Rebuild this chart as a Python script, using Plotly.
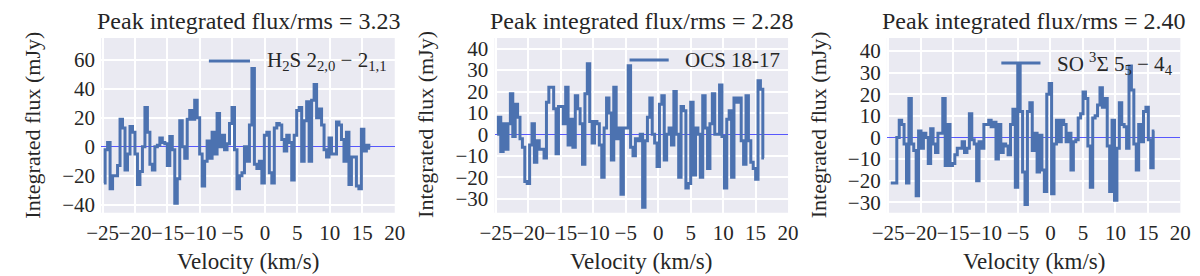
import numpy as np
import plotly.graph_objects as go

# ---- data ----
h2s_flux = [-25, -2, 3, -29, -20, -20, -13, 19, 13, -16, -5, 14, 10, -5, -26, -17, 0, 27, 10, -12,
            -16, 0, 1, 6, 3, 2, -13, 7, -2, -39, -22, 18, 0, -8, 19, 25, 19, 32, 20, -5,
            -27, -10, 4, -8, 10, -5, 23, 0, 8, -2, 2, 16, 27, -2, -29, -20, -18, 0, -10, 15,
            54, -12, -15, -10, -25, 8, 10, -18, -25, 13, 16, 15, 5, -3, 8, 3, -23, 8, 25, 27,
            -10, 18, 31, -10, 32, 43, 20, 26, 15, -2, -7, 6, -5, -5, 17, 15, 5, -10, 10, -26,
            -7, -7, -27, -29, 12, -3, 1, -1]
ocs_flux = [0, 8, -8, 5, -7, 5, 19, -1, 14, 8, -2, -6, -22, -23, -5, 5, -13, -3, -7, -7,
            -11, 15, 22, 22, 12, -9, 13, 13, 5, 22, -5, 7, -6, 18, 12, 5, -14, 19, 33, 6,
            -4, 6, 5, -5, -20, 3, 17, 10, -12, 22, -2, 3, -28, 3, 3, 32, -6, -10, -2, -3,
            0, -34, -3, 8, 17, 0, -4, -15, 14, 18, -12, 0, 3, -5, 20, 0, -20, 13, 11, -25,
            -23, 15, -19, 3, 0, -20, 18, 3, -16, 5, 19, 0, 0, 23, -1, -25, 7, 11, -20, 17,
            15, 17, -3, -14, 18, -3, -13, -16, -21, 25, 21, -11]
so_flux = [-21, -21, -21, 0, 8, 6, -3, -21, 18, -3, -6, -27, 3, -5, 2, 0, -12, 4, -3, -7,
           2, 2, 18, -13, 6, -13, -12, -8, -5, -5, -2, -7, -5, 11, -1, -3, -20, -2, -5, 6,
           6, 8, 5, 7, -10, 6, -7, -3, -4, -8, 6, 13, -23, 34, 12, -16, -31, 12, 16, -6,
           2, -16, 1, -15, -25, 20, 25, -26, -3, 8, -2, 8, 6, -2, 2, -15, -2, -1, 9, 11,
           21, 18, -4, -23, 9, 10, 15, 23, 14, 18, -4, -25, 8, -29, -5, 16, 6, 5, -5, 33,
           22, -3, -15, 6, -2, 12, 14, -1, -14, 3]

h2s_vel = np.linspace(-24.8, 16.2, len(h2s_flux))
ocs_vel = np.linspace(-24.8, 16.3, len(ocs_flux))
so_vel = np.linspace(-24.6, 16.0, len(so_flux))

titles = ["Peak integrated flux/rms = 3.23", "Peak integrated flux/rms = 2.28",
          "Peak integrated flux/rms = 2.40"]
labels = ["H<sub>2</sub>S 2<sub>2,0</sub> − 2<sub>1,1</sub>", "OCS 18-17",
          "SO <sup>3</sup>Σ 5<sub>5</sub> − 4<sub>4</sub>"]
y_ranges = [[-45.5, 75], [-36.6, 45], [-34.8, 46]]
y_dticks = [20, 10, 10]

W, H = 1200, 276
LINE = "#4C72B0"
BG = "#EAEAF2"
FONT = "'Liberation Serif', 'DejaVu Serif', serif"
TXT = "#262626"

px_left = [80, 482, 883]
px_w = 300
top_px, bot_px = 29.5, 207.5

fig = go.Figure()
series = [(h2s_vel, h2s_flux), (ocs_vel, ocs_flux), (so_vel, so_flux)]
annotations = []
shapes = []
for i, (v, f) in enumerate(series):
    n = "" if i == 0 else str(i + 1)
    fig.add_trace(go.Scatter(x=v, y=f, mode="lines", line=dict(color=LINE, width=3, shape="hvh"),
                             xaxis="x" + n, yaxis="y" + n, showlegend=False, name=labels[i]))
    x0 = px_left[i] / W
    x1 = (px_left[i] + px_w) / W
    fig.update_layout(**{
        "xaxis" + n: dict(domain=[x0, x1], range=[-25.2, 20], dtick=5, tick0=0, tickangle=0,
                          showgrid=True, gridcolor="white", gridwidth=1.6, zeroline=False,
                          showline=False, ticks="outside", ticklen=1, tickcolor="rgba(0,0,0,0)",
                          tickfont=dict(family=FONT, size=21, color=TXT),
                          anchor="y" + n),
        "yaxis" + n: dict(domain=[1 - bot_px / H, 1 - top_px / H], range=y_ranges[i],
                          dtick=y_dticks[i], tick0=0, tickangle=0, showgrid=True, gridcolor="white",
                          gridwidth=1.6, zeroline=True, zerolinecolor="rgba(50,50,255,0.8)",
                          zerolinewidth=1, showline=False, ticks="outside", ticklen=1,
                          tickcolor="rgba(0,0,0,0)",
                          tickfont=dict(family=FONT, size=21, color=TXT),
                          anchor="x" + n),
    })
    cx = (px_left[i] + px_w / 2) / W
    annotations.append(dict(text=titles[i], x=cx, y=1 - 12.5 / H, xref="paper", yref="paper",
                            showarrow=False, xanchor="center", yanchor="middle",
                            font=dict(family=FONT, size=24, color=TXT)))
    annotations.append(dict(text="Velocity (km/s)", x=cx, y=1 - 257 / H, xref="paper", yref="paper",
                            showarrow=False, xanchor="center", yanchor="middle",
                            font=dict(family=FONT, size=23, color=TXT)))
    annotations.append(dict(text="Integrated flux (mJy)", x=(px_left[i] - 70) / W, y=1 - 118 / H,
                            xref="paper", yref="paper", textangle=-90, showarrow=False,
                            xanchor="center", yanchor="middle",
                            font=dict(family=FONT, size=22, color=TXT)))

leg_line = [(190, 232, 53), (620, 660, 52), (1000, 1040, 55)]
leg_text_x = [247, 675, 1055]
for i in range(3):
    a, b, yy = leg_line[i]
    shapes.append(dict(type="line", xref="paper", yref="paper", x0=a / W, x1=b / W,
                       y0=1 - yy / H, y1=1 - yy / H, line=dict(color=LINE, width=3)))
    annotations.append(dict(text=labels[i], x=leg_text_x[i] / W, y=1 - yy / H, xref="paper",
                            yref="paper", showarrow=False, xanchor="left", yanchor="middle",
                            font=dict(family=FONT, size=21, color=TXT)))

fig.update_layout(width=W, height=H, margin=dict(l=0, r=0, t=0, b=0),
                  paper_bgcolor="white", plot_bgcolor=BG,
                  annotations=annotations, shapes=shapes, showlegend=False)

fig.write_html("out.html")
